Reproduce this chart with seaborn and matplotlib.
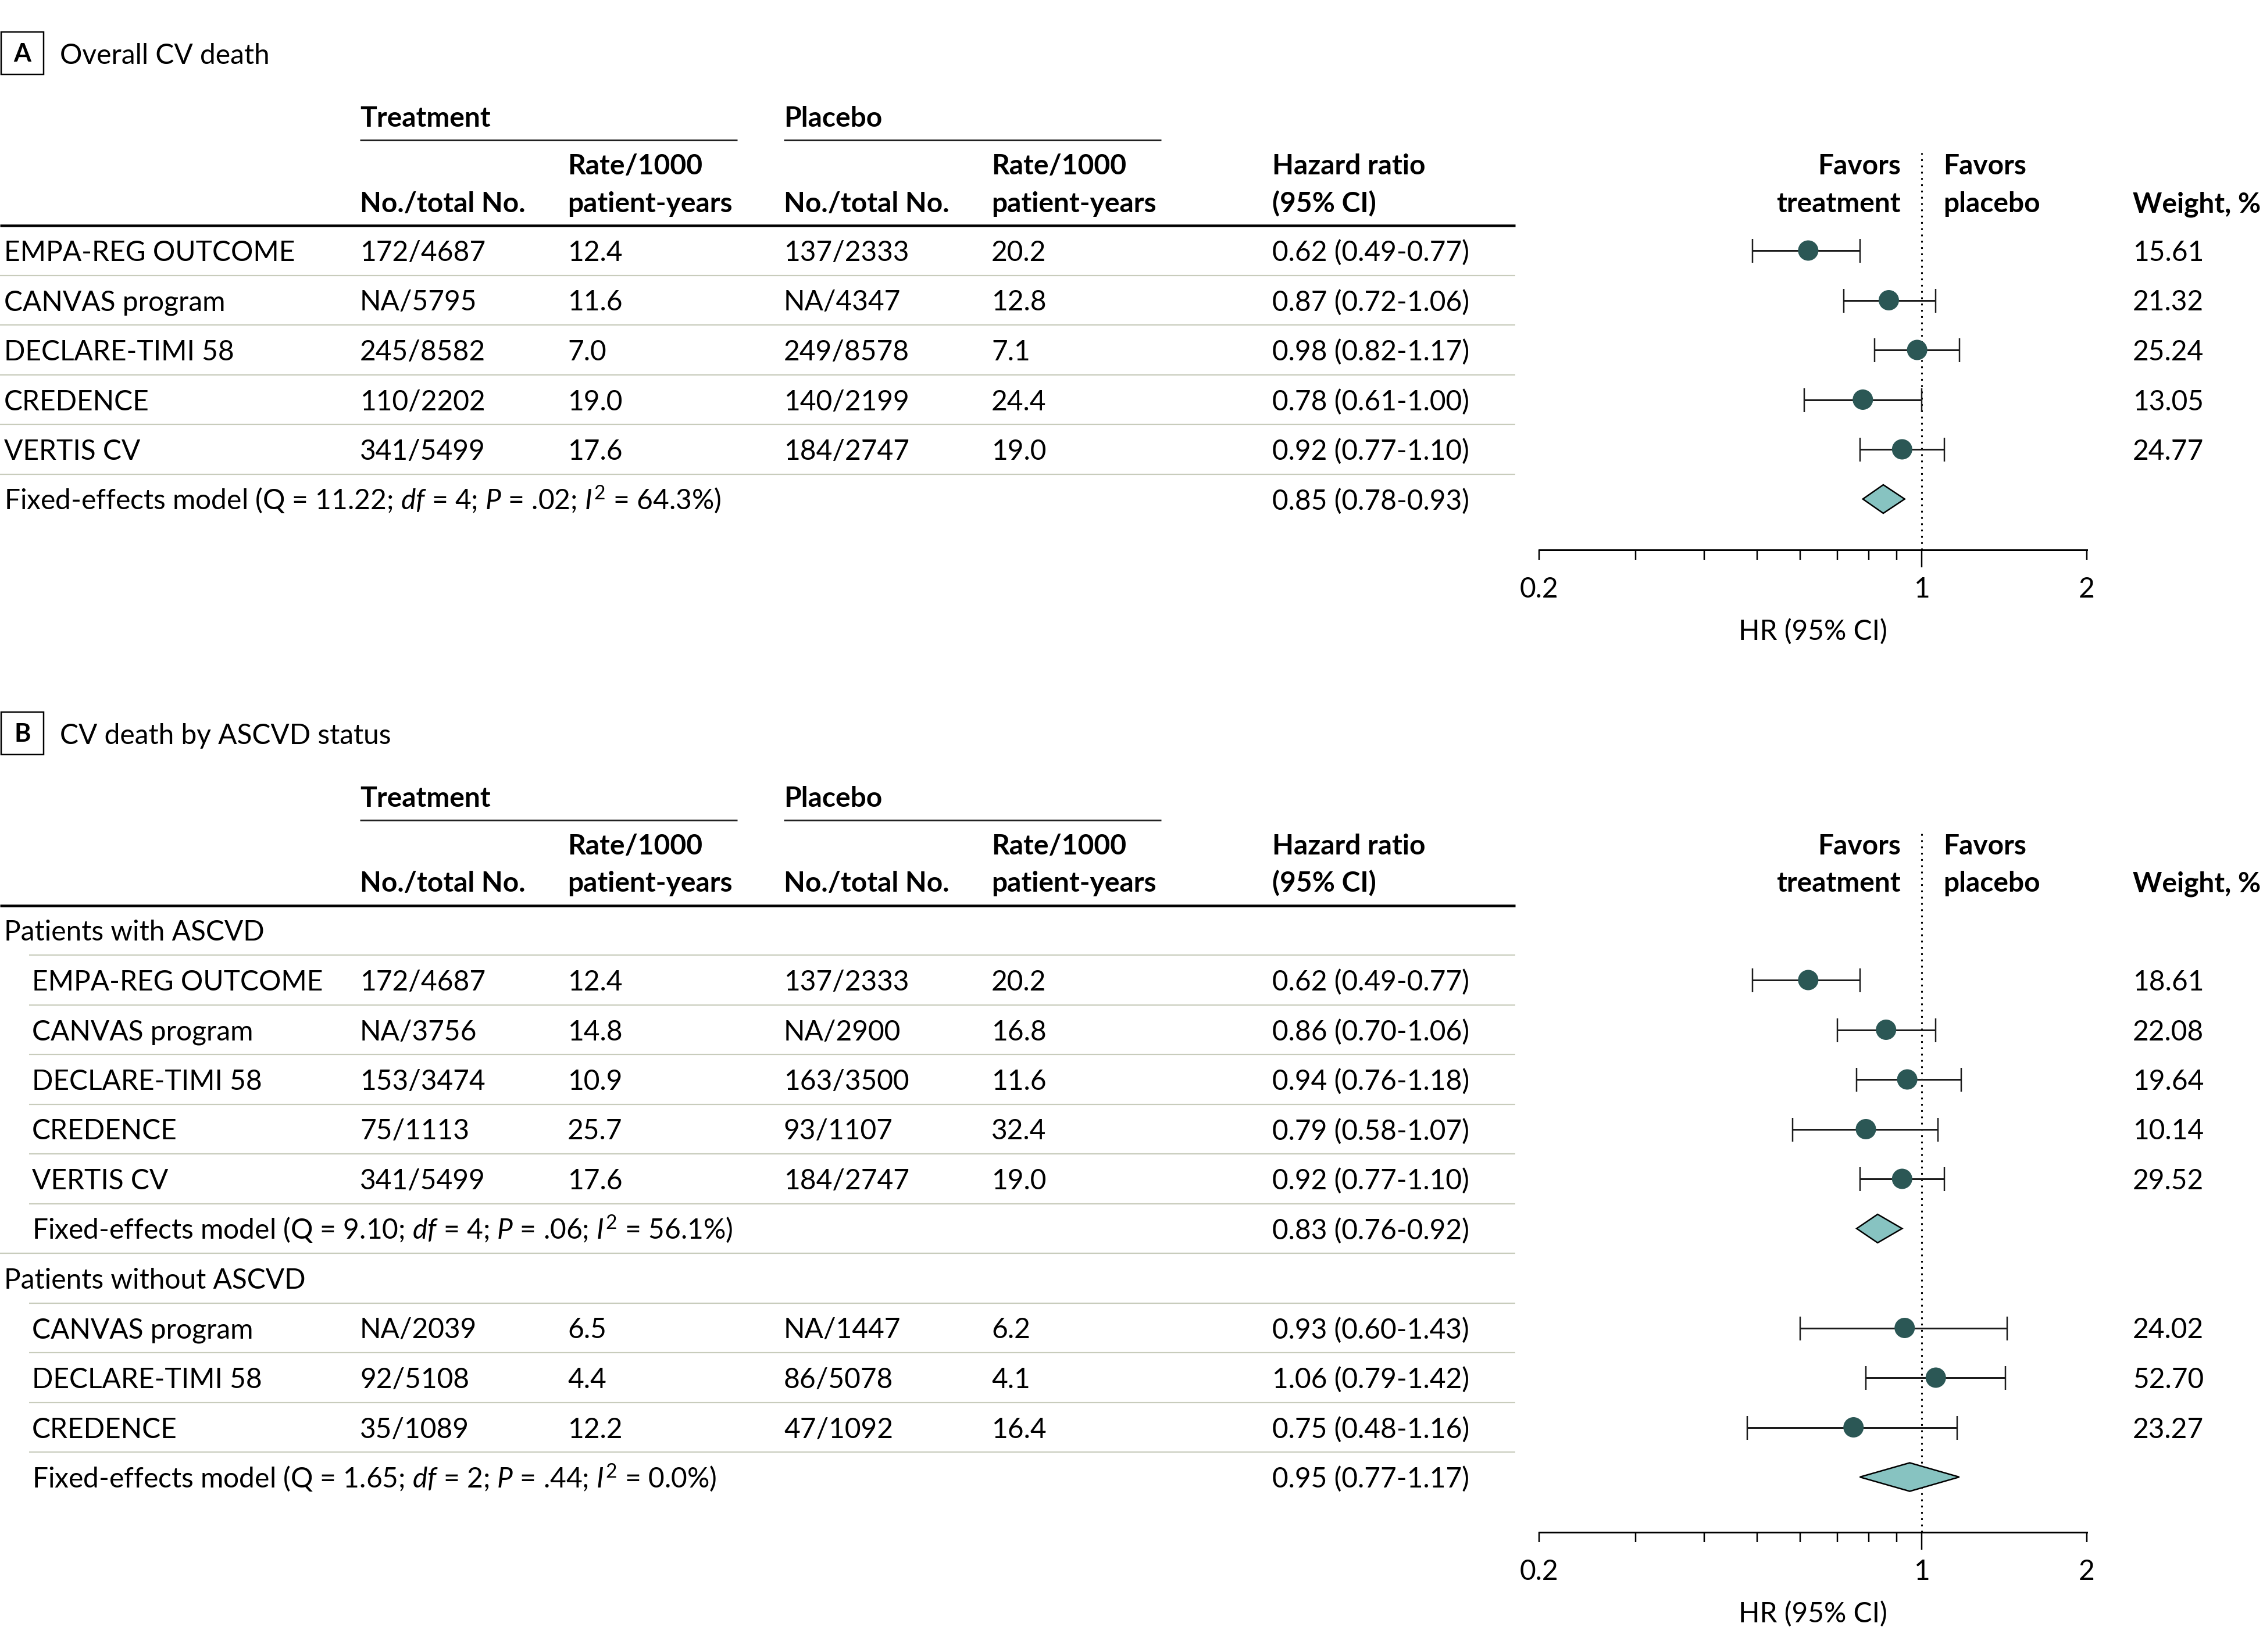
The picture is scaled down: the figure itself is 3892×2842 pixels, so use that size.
import numpy as np
import pandas as pd
import matplotlib
matplotlib.use("Agg")
import matplotlib.pyplot as plt
import seaborn as sns
from matplotlib import font_manager as fm
from matplotlib.patches import Polygon, Rectangle
from matplotlib.ticker import FixedLocator, NullFormatter

# ---------------- data: panel A (overall CV death) ----------------
a_studies = ["EMPA-REG OUTCOME", "CANVAS program", "DECLARE-TIMI 58", "CREDENCE", "VERTIS CV"]
a_trt_n = ["172/4687", "NA/5795", "245/8582", "110/2202", "341/5499"]
a_trt_rate = ["12.4", "11.6", "7.0", "19.0", "17.6"]
a_pbo_n = ["137/2333", "NA/4347", "249/8578", "140/2199", "184/2747"]
a_pbo_rate = ["20.2", "12.8", "7.1", "24.4", "19.0"]
a_hr = [0.62, 0.87, 0.98, 0.78, 0.92]
a_lo = [0.49, 0.72, 0.82, 0.61, 0.77]
a_hi = [0.77, 1.06, 1.17, 1.00, 1.10]
a_weight = ["15.61", "21.32", "25.24", "13.05", "24.77"]
a_fixed = [0.85, 0.78, 0.93]
a_fixed_stats = ["11.22", "4", ".02", "64.3"]

# ---------------- data: panel B, patients with ASCVD ----------------
b1_studies = ["EMPA-REG OUTCOME", "CANVAS program", "DECLARE-TIMI 58", "CREDENCE", "VERTIS CV"]
b1_trt_n = ["172/4687", "NA/3756", "153/3474", "75/1113", "341/5499"]
b1_trt_rate = ["12.4", "14.8", "10.9", "25.7", "17.6"]
b1_pbo_n = ["137/2333", "NA/2900", "163/3500", "93/1107", "184/2747"]
b1_pbo_rate = ["20.2", "16.8", "11.6", "32.4", "19.0"]
b1_hr = [0.62, 0.86, 0.94, 0.79, 0.92]
b1_lo = [0.49, 0.70, 0.76, 0.58, 0.77]
b1_hi = [0.77, 1.06, 1.18, 1.07, 1.10]
b1_weight = ["18.61", "22.08", "19.64", "10.14", "29.52"]
b1_fixed = [0.83, 0.76, 0.92]
b1_fixed_stats = ["9.10", "4", ".06", "56.1"]

# ---------------- data: panel B, patients without ASCVD ----------------
b2_studies = ["CANVAS program", "DECLARE-TIMI 58", "CREDENCE"]
b2_trt_n = ["NA/2039", "92/5108", "35/1089"]
b2_trt_rate = ["6.5", "4.4", "12.2"]
b2_pbo_n = ["NA/1447", "86/5078", "47/1092"]
b2_pbo_rate = ["6.2", "4.1", "16.4"]
b2_hr = [0.93, 1.06, 0.75]
b2_lo = [0.60, 0.79, 0.48]
b2_hi = [1.43, 1.42, 1.16]
b2_weight = ["24.02", "52.70", "23.27"]
b2_fixed = [0.95, 0.77, 1.17]
b2_fixed_stats = ["1.65", "2", ".44", "0.0"]

x_ticks = [0.2, 1, 2]
x_tick_labels = ["0.2", "1", "2"]
x_minor = [0.3, 0.4, 0.5, 0.6, 0.7, 0.8, 0.9]

# ---------------- style ----------------
sns.set_theme(style="white")
names = {f.name for f in fm.fontManager.ttflist}
if "Liberation Sans Narrow" in names:
    FONT, FS = "Liberation Sans Narrow", 38
else:
    FONT, FS = "Lato", 34.5
plt.rcParams["font.family"] = [FONT, "DejaVu Sans"]
plt.rcParams["mathtext.fontset"] = "custom"
plt.rcParams["mathtext.rm"] = FONT
plt.rcParams["mathtext.it"] = FONT + ":italic"
plt.rcParams["mathtext.bf"] = FONT + ":bold"
plt.rcParams["mathtext.default"] = "regular"
plt.rcParams["text.color"] = "black"

DOT = "#2b5755"
DIAM = "#87c3c1"
SEP = "#c8ccbc"

W, H, DPI = 3892, 2842, 100
PX = 72 / DPI
PITCH = 85.5
X = dict(study=7, indent=55, tn=619, tr=976, pn=1348, pr=1705, hr=2188, wt=3668)
LINE_END = 2606
F_LEFT, F_RIGHT = 2647, 3589

fig = plt.figure(figsize=(W / DPI, H / DPI), dpi=DPI)
bg = fig.add_axes([0, 0, 1, 1])
bg.set_xlim(0, W)
bg.set_ylim(H, 0)
bg.axis("off")


def txt(x, y, s, bold=False, ha="left", size=None):
    bg.text(x, y, s, ha=ha, va="baseline", fontsize=size or FS,
            fontweight="bold" if bold else "normal", color="black")


def hr_str(h, l, u):
    return f"{h:.2f} ({l:.2f}-{u:.2f})"


def fixed_label(stats):
    q, df, p, i2 = stats
    return (f"Fixed-effects model (Q = {q}; $\\mathit{{df}}$ = {df}; "
            f"$\\mathit{{P}}$ = {p}; $\\mathit{{I}}^2$ = {i2}%)")


def study_rows(studies, tn, tr, pn, pr, hr, lo, hi, wt, indent):
    return [dict(kind="study", label=s, tn=a, tr=b, pn=c, pr=d, hr=e, lo=f, hi=g, wt=w, indent=indent)
            for s, a, b, c, d, e, f, g, w in zip(studies, tn, tr, pn, pr, hr, lo, hi, wt)]


def fixed_row(fx, stats, indent):
    return dict(kind="fixed", label=fixed_label(stats), hr=fx[0], lo=fx[1], hi=fx[2], indent=indent)


rows_a = study_rows(a_studies, a_trt_n, a_trt_rate, a_pbo_n, a_pbo_rate, a_hr, a_lo, a_hi, a_weight, False)
rows_a.append(fixed_row(a_fixed, a_fixed_stats, False))

rows_b = [dict(kind="group", label="Patients with ASCVD", indent=False)]
rows_b += study_rows(b1_studies, b1_trt_n, b1_trt_rate, b1_pbo_n, b1_pbo_rate, b1_hr, b1_lo, b1_hi, b1_weight, True)
rows_b.append(fixed_row(b1_fixed, b1_fixed_stats, True))
rows_b.append(dict(kind="group", label="Patients without ASCVD", indent=False))
rows_b += study_rows(b2_studies, b2_trt_n, b2_trt_rate, b2_pbo_n, b2_pbo_rate, b2_hr, b2_lo, b2_hi, b2_weight, True)
rows_b.append(fixed_row(b2_fixed, b2_fixed_stats, True))


def draw_panel(off, letter, title, rows, axis_y):
    bg.add_patch(Rectangle((2, 55 + off), 73, 73, fill=False, ec="black", lw=2.5 * PX))
    bg.text(38.5, 93 + off, letter, ha="center", va="center", fontsize=FS * 0.9,
            fontweight="bold", color="black")
    txt(103, 110 + off, title)
    for x0, x1, lab in [(X["tn"], 1268, "Treatment"), (X["pn"], 1997, "Placebo")]:
        txt(x0, 218 + off, lab, bold=True)
        bg.plot([x0, x1], [241 + off] * 2, color="#222222", lw=3 * PX, solid_capstyle="butt")
    for x in (X["tr"], X["pr"]):
        txt(x, 300 + off, "Rate/1000", bold=True)
        txt(x, 365 + off, "patient-years", bold=True)
    for x in (X["tn"], X["pn"]):
        txt(x, 365 + off, "No./total No.", bold=True)
    txt(X["hr"], 300 + off, "Hazard ratio", bold=True)
    txt(X["hr"], 365 + off, "(95% CI)", bold=True)
    txt(3269, 300 + off, "Favors", bold=True, ha="right")
    txt(3269, 365 + off, "treatment", bold=True, ha="right")
    txt(3342, 300 + off, "Favors", bold=True)
    txt(3342, 365 + off, "placebo", bold=True)
    txt(X["wt"], 365 + off, "Weight, %", bold=True)
    bg.plot([0, LINE_END], [388 + off] * 2, color="black", lw=4.5 * PX, solid_capstyle="butt")

    row0 = 431 + off
    for i, r in enumerate(rows):
        yc = row0 + i * PITCH
        yb = yc + 18
        txt(X["indent"] if r["indent"] else X["study"], yb, r["label"])
        if r["kind"] == "study":
            txt(X["tn"], yb, r["tn"])
            txt(X["tr"], yb, r["tr"])
            txt(X["pn"], yb, r["pn"])
            txt(X["pr"], yb, r["pr"])
            txt(X["wt"], yb, r["wt"])
        if r["kind"] in ("study", "fixed"):
            txt(X["hr"], yb, hr_str(r["hr"], r["lo"], r["hi"]))
        if i < len(rows) - 1:
            x0 = 50 if rows[i + 1]["indent"] else 0
            bg.plot([x0, LINE_END], [yc + PITCH / 2] * 2, color=SEP, lw=2.2 * PX, solid_capstyle="butt")

    # ---------------- forest axes ----------------
    top = 263 + off
    ax = fig.add_axes([F_LEFT / W, 1 - axis_y / H, (F_RIGHT - F_LEFT) / W, (axis_y - top) / H])
    ax.set_xscale("log")
    ax.patch.set_alpha(0)
    st = pd.DataFrame([dict(y=i, hr=r["hr"], lo=r["lo"], hi=r["hi"])
                       for i, r in enumerate(rows) if r["kind"] == "study"])
    ax.axvline(1, color="black", lw=3 * PX, linestyle=(0, (1, 2.6)), zorder=1)
    ax.errorbar(st["hr"], st["y"], xerr=[st["hr"] - st["lo"], st["hi"] - st["hr"]], fmt="none",
                ecolor="#1c1c1c", elinewidth=3 * PX, capsize=20.5 * PX, capthick=2.5 * PX, zorder=3)
    sns.scatterplot(data=st, x="hr", y="y", ax=ax, s=(35 * PX) ** 2, color=DOT,
                    edgecolor="none", linewidth=0, zorder=4, legend=False)
    hh = 24.5 / PITCH
    for i, r in enumerate(rows):
        if r["kind"] == "fixed":
            ax.add_patch(Polygon([(r["lo"], i), (r["hr"], i - hh), (r["hi"], i), (r["hr"], i + hh)],
                                 closed=True, fc=DIAM, ec="black", lw=2.5 * PX, zorder=4))
    ax.set_xlim(0.2, 2)
    ax.set_ylim((axis_y - row0) / PITCH, (top - row0) / PITCH)
    for s in ("top", "left", "right"):
        ax.spines[s].set_visible(False)
    ax.spines["bottom"].set_color("black")
    ax.spines["bottom"].set_linewidth(3 * PX)
    ax.set_xticks(x_ticks)
    ax.set_xticklabels(x_tick_labels)
    ax.xaxis.set_minor_locator(FixedLocator(x_minor))
    ax.xaxis.set_minor_formatter(NullFormatter())
    ax.tick_params(axis="x", which="both", bottom=True, top=False, direction="out",
                   length=17 * PX, width=2.5 * PX, color="black", labelsize=FS, pad=21,
                   labelcolor="black")
    ax.tick_params(axis="y", left=False, labelleft=False)
    ax.set_ylabel("")
    ax.set_xlabel("HR (95% CI)", fontsize=FS, labelpad=20, color="black")
    ax.grid(False)
    ax.xaxis.get_major_ticks()[1].tick1line.set_markersize(30 * PX)
    return ax


draw_panel(0, "A", "Overall CV death", rows_a, 946)
draw_panel(1169.5, "B", "CV death by ASCVD status", rows_b, 2636)

fig.savefig("out.png", dpi=DPI, facecolor="white")
